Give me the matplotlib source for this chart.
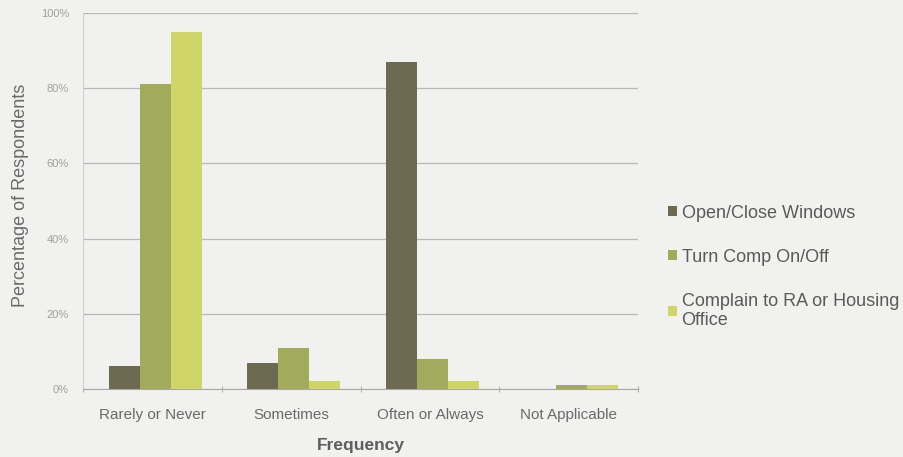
import matplotlib
matplotlib.use("Agg")
import matplotlib.pyplot as plt
import numpy as np

plt.rcParams['font.family'] = ['Liberation Sans', 'DejaVu Sans']

categories = ["Rarely or Never", "Sometimes", "Often or Always", "Not Applicable"]
series_names = ["Open/Close Windows", "Turn Comp On/Off", "Complain to RA or Housing\nOffice"]
windows = [6, 7, 87, 0]
comp = [81, 11, 8, 1]
complain = [95, 2, 2, 1]
colors = ["#6d6a52", "#a2ab5c", "#d0d56a"]
yticks = [0, 20, 40, 60, 80, 100]

bg = "#f1f1ef"
fig = plt.figure(figsize=(9.04, 4.57), dpi=100, facecolor=bg)
ax = fig.add_axes([0.0918, 0.149, 0.614, 0.8226], facecolor=bg)

x = np.arange(len(categories))
w = 0.223
for i, (vals, c, name) in enumerate(zip([windows, comp, complain], colors, series_names)):
    ax.bar(x + (i - 1) * w + 0.02, vals, width=w, color=c, label=name, zorder=3)

ax.set_xlim(-0.5, 3.5)
ax.set_ylim(0, 100)
ax.set_yticks(yticks)
ax.set_yticklabels([f"{v}%" for v in yticks], fontsize=8, color="#a0a0a0")
ax.set_xticks(x)
ax.set_xticklabels(categories, fontsize=11, color="#6a6a6a")
ax.set_xticks(np.arange(len(categories) + 1) - 0.5, minor=True)
ax.tick_params(axis='x', which='major', length=0, pad=14)
ax.tick_params(axis='x', which='minor', length=4, direction='inout', color="#b0b0b0", width=0.8)
ax.tick_params(axis='y', length=0, pad=10)
ax.yaxis.grid(True, color="#b8b8b8", linewidth=0.9, zorder=0)
for s in ["top", "right"]:
    ax.spines[s].set_visible(False)
ax.spines["left"].set_color("#d0d0d0")
ax.spines["bottom"].set_color("#a8a8a8")

ax.set_xlabel("Frequency", fontsize=12.5, fontweight="bold", color="#5e5e5e", labelpad=11)
ax.set_ylabel("Percentage of Respondents", fontsize=13, color="#6a6a6a")
ax.yaxis.set_label_coords(-0.098, 0.516)

leg = fig.legend(loc="upper left", bbox_to_anchor=(0.721, 0.588), frameon=False,
                 fontsize=13, labelcolor="#5a5a5a", handlelength=0.5, handleheight=0.5,
                 handletextpad=0.25, labelspacing=1.5)

fig.savefig("out.png", dpi=100, facecolor=bg)
